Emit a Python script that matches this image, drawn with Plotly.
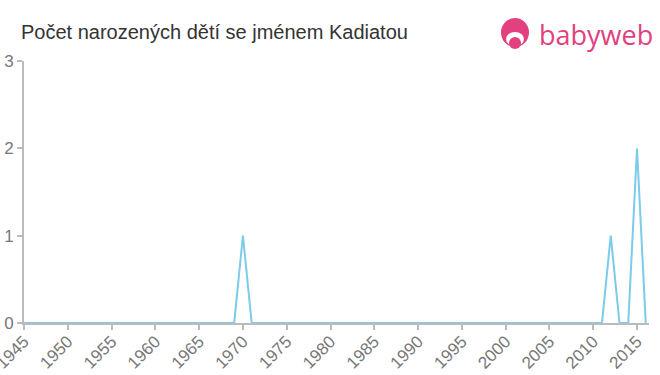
import plotly.graph_objects as go

years = list(range(1945, 2017))
counts = [0] * len(years)
spikes = {1970: 1, 2012: 1, 2015: 2}
for yr, v in spikes.items():
    counts[years.index(yr)] = v

tick_years = list(range(1945, 2020, 5))
title_text = "Počet narozených dětí se jménem Kadiatou"

L, R, T, B = 24, 11, 61, 52
W, H = 660, 375
pw, ph = W - L - R, H - T - B

def px(x):
    return (x - L) / pw

def py(y):
    return (H - B - y) / ph

fig = go.Figure()
fig.add_trace(go.Scatter(x=years, y=counts, mode="lines",
                         line=dict(color="#7ccbea", width=2), hoverinfo="skip",
                         cliponaxis=False))

pink = "#e2407f"
shapes = [
    dict(type="circle", xref="paper", yref="paper",
         x0=px(501), x1=px(529), y0=py(47), y1=py(18),
         fillcolor=pink, line=dict(width=0), layer="above"),
    dict(type="circle", xref="paper", yref="paper",
         x0=px(506), x1=px(524), y0=py(46), y1=py(32),
         fillcolor="white", line=dict(width=0), layer="above"),
    dict(type="circle", xref="paper", yref="paper",
         x0=px(509), x1=px(521), y0=py(49), y1=py(37),
         fillcolor=pink, line=dict(width=0), layer="above"),
]

fig.update_layout(
    width=W, height=H,
    margin=dict(l=L, r=R, t=T, b=B, autoexpand=False),
    paper_bgcolor="white", plot_bgcolor="white",
    showlegend=False,
    font=dict(family="Liberation Sans, Arial, sans-serif"),
    shapes=shapes,
    annotations=[
        dict(text=title_text, xref="paper", yref="paper",
             x=px(19), y=py(32), xanchor="left", yanchor="middle",
             showarrow=False, font=dict(size=20, color="#333333")),
        dict(text="babyweb", xref="paper", yref="paper",
             x=px(537), y=py(34), xanchor="left", yanchor="middle",
             showarrow=False, font=dict(size=27, color=pink,
                                         family="Open Sans, Arial, sans-serif")),
    ],
)
fig.update_xaxes(
    range=[1945, 2016.37], tickvals=tick_years,
    ticktext=[str(t) for t in tick_years], tickangle=-45,
    showgrid=False, zeroline=False, automargin=False,
    ticklabeloverflow="allow", ticklabelstandoff=-5,
    showline=True, linecolor="#bbbbbb", linewidth=2,
    ticks="outside", ticklen=5, tickwidth=2, tickcolor="#bbbbbb",
    tickfont=dict(size=17, color="#777777"),
)
fig.update_yaxes(
    range=[0, 3], tickvals=[0, 1, 2, 3],
    showgrid=False, zeroline=False, automargin=False,
    ticklabeloverflow="allow",
    showline=True, linecolor="#bbbbbb", linewidth=2,
    ticks="outside", ticklen=5, tickwidth=2, tickcolor="#bbbbbb",
    tickfont=dict(size=17, color="#777777"),
)
fig.write_html("out.html")
